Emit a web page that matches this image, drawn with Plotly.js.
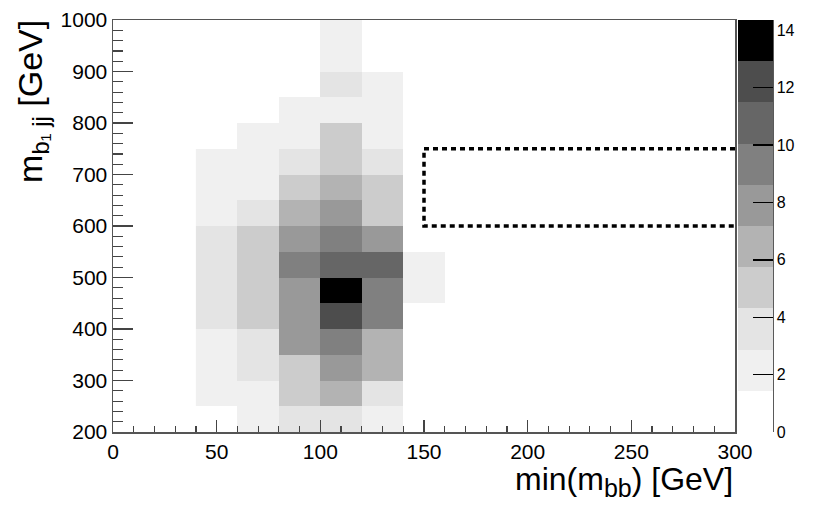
<!DOCTYPE html>
<html>
<head>
<meta charset="utf-8">
<script src="https://cdn.plot.ly/plotly-3.0.1.min.js"></script>
<style>
  html, body { margin: 0; padding: 0; background: #fff; }
  #chart { width: 830px; height: 519px; }
</style>
</head>
<body>
<div id="chart"></div>
<script>
// Bin edges
const xEdges = [40, 60, 80, 100, 120, 140, 160];          // min(m_bb) [GeV]
const yEdges = [200, 250, 300, 350, 400, 450, 500, 550, 600, 650, 700, 750, 800, 850, 900, 950, 1000]; // m_b1jj [GeV]

// Bin contents, one row per y bin (bottom to top), columns = x bins 40-60 ... 140-160
const row200 = [0,   2.1, 3.6, 3.6,   2.1, 0];
const row250 = [2.1, 2.1, 5.0, 6.5,   3.6, 0];
const row300 = [2.1, 3.6, 5.0, 7.9,   6.5, 0];
const row350 = [2.1, 3.6, 7.9, 9.4,   6.5, 0];
const row400 = [3.6, 5.0, 7.9, 12.2,  9.4, 0];
const row450 = [3.6, 5.0, 7.9, 14.36, 9.4, 2.1];
const row500 = [3.6, 5.0, 9.4, 10.8, 10.8, 2.1];
const row550 = [3.6, 5.0, 7.9, 9.4,   7.9, 0];
const row600 = [2.1, 3.6, 6.5, 7.9,   5.0, 0];
const row650 = [2.1, 2.1, 5.0, 6.5,   5.0, 0];
const row700 = [2.1, 2.1, 3.6, 5.0,   3.6, 0];
const row750 = [0,   2.1, 2.1, 5.0,   2.1, 0];
const row800 = [0,   0,   2.1, 2.1,   2.1, 0];
const row850 = [0,   0,   0,   3.6,   2.1, 0];
const row900 = [0,   0,   0,   2.1,   0,   0];
const row950 = [0,   0,   0,   2.1,   0,   0];

// Signal region box
const boxX = [150, 300];
const boxY = [600, 750];

// Colour bar
const zMax = 14.36;
const cbTicks = [0, 2, 4, 6, 8, 10, 12, 14];
const xTicks = [0, 50, 100, 150, 200, 250, 300];
const yTicks = [200, 300, 400, 500, 600, 700, 800, 900, 1000];
const greys = ['#ffffff', '#f0f0f0', '#e4e4e4', '#cccccc', '#b3b3b3', '#999999', '#808080', '#666666', '#4d4d4d', '#000000'];

const rows = [row200, row250, row300, row350, row400, row450, row500, row550,
              row600, row650, row700, row750, row800, row850, row900, row950];
const z = rows.map(r => r.map(v => v > 0 ? v : null));

const colorscale = [];
greys.forEach((c, i) => {
  colorscale.push([i / greys.length, c]);
  colorscale.push([(i + 1) / greys.length, c]);
});

const L = 113, R = 735, T = 20, B = 432, W = 830, H = 519;
const pw = R - L, ph = B - T;
const font = 'Liberation Sans, Arial, Helvetica, sans-serif';

const trace = {
  type: 'heatmap',
  x: xEdges,
  y: yEdges,
  z: z,
  zmin: 0,
  zmax: zMax,
  colorscale: colorscale,
  zsmooth: false,
  hoverongaps: false,
  colorbar: {
    x: (738 - L) / pw,
    xanchor: 'left',
    xpad: 0,
    y: 0.5,
    yanchor: 'middle',
    ypad: 0,
    thickness: 35,
    thicknessmode: 'pixels',
    len: ph,
    lenmode: 'pixels',
    outlinewidth: 0,
    tickmode: 'array',
    tickvals: cbTicks,
    ticktext: cbTicks.map(String),
    ticks: 'inside',
    ticklen: 20,
    tickwidth: 1.3,
    tickcolor: '#000',
    tickfont: { family: font, size: 16, color: '#000' }
  }
};

const axisCommon = {
  showgrid: false,
  zeroline: false,
  showline: true,
  mirror: true,
  linecolor: '#555',
  linewidth: 1.5,
  ticks: 'inside',
  tickcolor: '#444',
  tickwidth: 1.5,
  tickfont: { family: font, size: 21, color: '#000' }
};

const layout = {
  width: W, height: H,
  margin: { l: L, r: W - R, t: T, b: H - B, pad: 0 },
  paper_bgcolor: '#fff',
  plot_bgcolor: '#fff',
  showlegend: false,
  xaxis: Object.assign({}, axisCommon, {
    range: [0, 300],
    tickmode: 'array',
    tickvals: xTicks,
    ticktext: xTicks.map(String),
    ticklen: 12,
    minor: { dtick: 10, tick0: 0, ticks: 'inside', ticklen: 6, tickcolor: '#444', tickwidth: 1.2 }
  }),
  yaxis: Object.assign({}, axisCommon, {
    range: [200, 1000],
    tickmode: 'array',
    tickvals: yTicks,
    ticktext: yTicks.map(String),
    ticklen: 20,
    minor: { dtick: 20, tick0: 200, ticks: 'inside', ticklen: 10, tickcolor: '#444', tickwidth: 1.2 }
  }),
  shapes: [
    {
      type: 'path', xref: 'x', yref: 'y',
      path: 'M' + boxX[1] + ',' + boxY[1] + ' L' + boxX[0] + ',' + boxY[1] +
            ' L' + boxX[0] + ',' + boxY[0] + ' L' + boxX[1] + ',' + boxY[0],
      line: { color: '#000', width: 3.5, dash: '5px,4px' }
    },
    {
      type: 'line', xref: 'paper', yref: 'paper',
      x0: (773 - L) / pw, x1: (773 - L) / pw, y0: 0, y1: 1,
      line: { color: '#000', width: 1.3 }
    }
  ],
  annotations: [
    {
      text: 'min(m<sub><span style="font-size:25px">bb</span></sub>) [GeV]',
      xref: 'paper', yref: 'paper',
      x: 1, xanchor: 'right',
      y: (B - 459) / ph, yanchor: 'top',
      showarrow: false,
      font: { family: font, size: 32, color: '#000' }
    },
    {
      text: 'm<sub>b₁ jj</sub> [GeV]',
      xref: 'paper', yref: 'paper',
      x: (9 - L) / pw, xanchor: 'left',
      y: 1.005, yanchor: 'top',
      textangle: -90,
      showarrow: false,
      font: { family: font, size: 34, color: '#000' }
    }
  ]
};

Plotly.newPlot('chart', [trace], layout, { displayModeBar: false, staticPlot: true });
</script>
</body>
</html>
